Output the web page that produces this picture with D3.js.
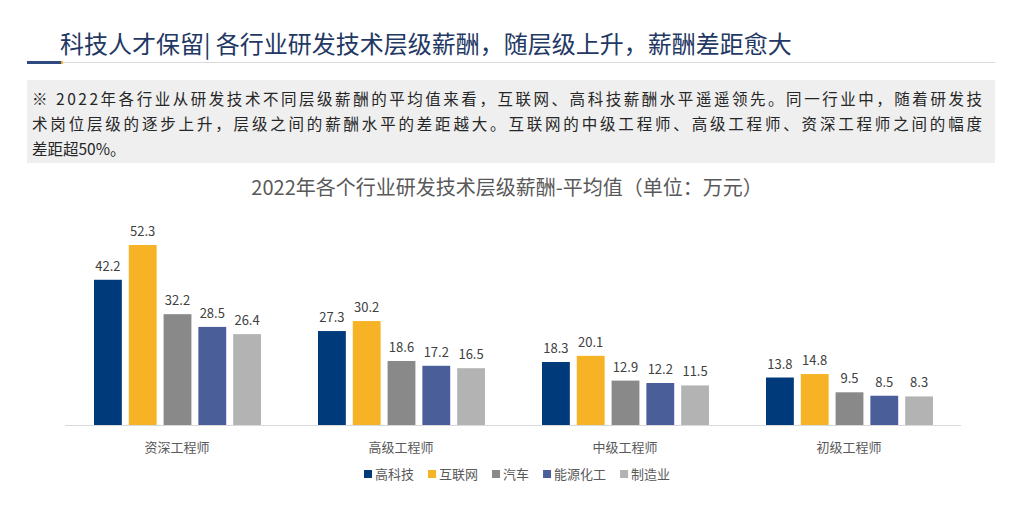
<!DOCTYPE html>
<html><head><meta charset="utf-8">
<script src="https://cdn.jsdelivr.net/npm/d3@7"></script>
<style>body{margin:0;background:#fff;font-family:"Noto Sans CJK SC",sans-serif}</style>
</head><body><svg id="c" width="1024" height="510"></svg>
<script>
const categories=["资深工程师","高级工程师","中级工程师","初级工程师"];
const seriesNames=["高科技","互联网","汽车","能源化工","制造业"];
const colors=["#003a7a","#f5b325","#898989","#4a5f9a","#b3b3b3"];
const values=[
 [42.2,27.3,18.3,13.8],
 [52.3,30.2,20.1,14.8],
 [32.2,18.6,12.9,9.5],
 [28.5,17.2,12.2,8.5],
 [26.4,16.5,11.5,8.3]];
const svg=d3.select("#c");
const F='"Noto Sans CJK SC",sans-serif';
svg.append("text").attr("x",60).attr("y",53).attr("font-size",24).attr("fill","#1f3864").attr("font-family",F)
 .text("科技人才保留| 各行业研发技术层级薪酬，随层级上升，薪酬差距愈大");
svg.append("rect").attr("x",27).attr("y",62).attr("width",968).attr("height",1).attr("fill","#d9d9d9");
svg.append("rect").attr("x",27).attr("y",61).attr("width",34).attr("height",3).attr("fill","#2f4a80");
svg.append("rect").attr("x",61).attr("y",61).attr("width",2).attr("height",3).attr("fill","#f5b325");
svg.append("rect").attr("x",27).attr("y",80).attr("width",968).attr("height",83).attr("fill","#efefef");
const lines=["※ 2022年各行业从研发技术不同层级薪酬的平均值来看，互联网、高科技薪酬水平遥遥领先。同一行业中，随着研发技","术岗位层级的逐步上升，层级之间的薪酬水平的差距越大。互联网的中级工程师、高级工程师、资深工程师之间的幅度","差距超50%。"];
lines.forEach((l,i)=>svg.append("text").attr("x",32).attr("y",105+i*25).attr("font-size",15.5).attr("fill","#262626").attr("font-family",F).attr("textLength",i<2?950:null).text(l));
svg.append("text").attr("x",507).attr("y",195).attr("text-anchor","middle").attr("font-size",20).attr("fill","#595959").attr("font-family",F).text("2022年各个行业研发技术层级薪酬-平均值（单位：万元）");
const x0=d3.scaleBand().domain(categories).range([65,961]).paddingInner(0).paddingOuter(0);
const x1=d3.scaleBand().domain(seriesNames).range([29,196]).paddingInner(0.2);
const y=d3.scaleLinear().domain([0,52.3]).range([425,245]);
svg.append("line").attr("x1",65).attr("x2",961).attr("y1",425.5).attr("y2",425.5).attr("stroke","#d9d9d9");
seriesNames.forEach((s,si)=>{
 categories.forEach((c,ci)=>{
  const v=values[si][ci], bx=x0(c)+x1(s);
  svg.append("rect").attr("x",bx).attr("y",y(v)).attr("width",x1.bandwidth()).attr("height",425-y(v)).attr("fill",colors[si]);
  svg.append("text").attr("x",bx+x1.bandwidth()/2).attr("y",y(v)-9).attr("text-anchor","middle").attr("font-size",13).attr("fill","#404040").attr("font-family",F).text(v.toFixed(1));
 });
});
categories.forEach(c=>svg.append("text").attr("x",x0(c)+x0.bandwidth()/2).attr("y",452).attr("text-anchor","middle").attr("font-size",13).attr("fill","#595959").attr("font-family",F).text(c));
let lx=364;
seriesNames.forEach((s,i)=>{
 svg.append("rect").attr("x",lx).attr("y",470).attr("width",8).attr("height",8).attr("fill",colors[i]);
 const t=svg.append("text").attr("x",lx+11).attr("y",479).attr("font-size",13).attr("fill","#595959").attr("font-family",F).text(s);
 lx+=11+t.node().getComputedTextLength()+14;
});
</script></body></html>
